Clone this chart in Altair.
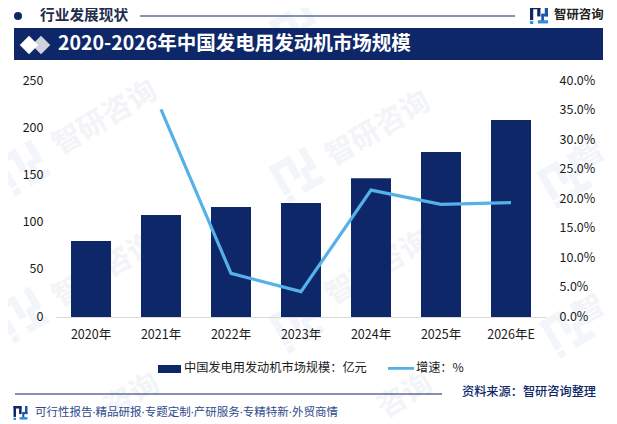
import math
import altair as alt
import pandas as pd

# ---- chart values ----
years = ["2020年", "2021年", "2022年", "2023年", "2024年", "2025年", "2026年E"]
market_size = [80.5, 108, 116.5, 120.8, 147, 174.8, 208.7]
growth_years = ["2021年", "2022年", "2023年", "2024年", "2025年", "2026年E"]
growth_pct = [35.2, 7.4, 4.3, 21.5, 19.1, 19.4]
left_ticks = [0, 50, 100, 150, 200, 250]
right_ticks = [0, 5, 10, 15, 20, 25, 30, 35, 40]

# ---- text ----
section_title = "行业发展现状"
brand = "智研咨询"
main_title = "2020-2026年中国发电用发动机市场规模"
legend_bar = "中国发电用发动机市场规模\uff1a亿元"
legend_line = "增速\uff1a%"
source_text = "资料来源\uff1a智研咨询整理"
footer_text = "可行性报告·精品研报·专题定制·产研服务·专精特新·外贸商情"

# ---- colours ----
NAVY = "#0E2769"
SKY = "#56B1E8"
INK = "#1A1A1A"
PALE = "#F2F4F7"
PALE_LOGO = "#F2F6FA"
FONT = "Noto Sans CJK SC"
FONT_NARROW_DOT = '"Noto Sans", "Noto Sans CJK SC"'

# the plot area's top-left corner, in picture pixels
OX, OY = 56, 81
PW, PH = 490, 236


def px(x):
    return x - OX


def py(y):
    return y - OY


def text_layer(rows, weight="normal", align="left", font=FONT):
    df = pd.DataFrame(
        [
            {"x": px(r[0]), "y": py(r[1]), "t": r[2], "s": r[3], "c": r[4], "a": r[5] if len(r) > 5 else 0}
            for r in rows
        ]
    )
    return alt.Chart(df).mark_text(
        font=font, fontWeight=weight, align=align, baseline="middle"
    ).encode(
        x=alt.X("x:Q", scale=None, axis=None),
        y=alt.Y("y:Q", scale=None, axis=None),
        text="t:N",
        size=alt.Size("s:Q", scale=None, legend=None),
        color=alt.Color("c:N", scale=None, legend=None),
        angle=alt.Angle("a:Q", scale=None, legend=None),
    )


def rect_layer(rows):
    df = pd.DataFrame(
        [{"x": px(r[0]), "x2": px(r[1]), "y": py(r[2]), "y2": py(r[3]), "c": r[4]} for r in rows]
    )
    return alt.Chart(df).mark_rect().encode(
        x=alt.X("x:Q", scale=None, axis=None),
        x2="x2:Q",
        y=alt.Y("y:Q", scale=None, axis=None),
        y2="y2:Q",
        color=alt.Color("c:N", scale=None, legend=None),
    )


# logo strokes in a unit box: x1, y1, x2, y2, width, tone
LOGO = [
    (0.00, 0.09, 0.58, 0.09, 0.18, 0),
    (0.09, 0.00, 0.09, 0.78, 0.18, 0),
    (0.49, 0.09, 0.49, 0.58, 0.18, 0),
    (0.91, 0.00, 0.91, 0.58, 0.18, 1),
    (0.64, 0.50, 1.00, 0.50, 0.15, 1),
    (0.70, 0.44, 0.70, 0.86, 0.15, 1),
    (0.44, 0.88, 1.00, 0.88, 0.18, 2),
    (0.00, 0.92, 0.18, 0.92, 0.16, 2),
]


def logo_rows(cx, cy, size, angle, tones):
    out = []
    ca, sa = math.cos(math.radians(angle)), math.sin(math.radians(angle))
    for x1, y1, x2, y2, w, tone in LOGO:
        pts = []
        for ux, uy in ((x1, y1), (x2, y2)):
            dx, dy = (ux - 0.5) * size, (uy - 0.5) * size
            pts.append((cx + dx * ca - dy * sa, cy + dx * sa + dy * ca))
        out.append(
            {
                "x": px(pts[0][0]), "y": py(pts[0][1]),
                "x2": px(pts[1][0]), "y2": py(pts[1][1]),
                "w": w * size, "c": tones[tone],
            }
        )
    return out


def logo_layer(rows):
    return alt.Chart(pd.DataFrame(rows)).mark_rule(strokeCap="butt").encode(
        x=alt.X("x:Q", scale=None, axis=None),
        x2="x2:Q",
        y=alt.Y("y:Q", scale=None, axis=None),
        y2="y2:Q",
        size=alt.Size("w:Q", scale=None, legend=None),
        color=alt.Color("c:N", scale=None, legend=None),
    )


# ---- watermark ----
wm_text = [
    (105, 118, brand), (378, 129, brand), (105, 270, brand), (378, 268, brand),
    (132, 396, brand[2:]), (405, 396, brand[2:]), (590, 155, brand[0]), (590, 310, brand[0]),
]
wm_logo_centres = [(23, 168), (297, 175), (565, 180), (22, 315), (297, 325), (568, 330), (297, 30)]

watermark_text = text_layer(
    [(x, y, t, 29, PALE, 329) for x, y, t in wm_text], weight="bold", align="center"
)
watermark_logo_rows = []
for x, y in wm_logo_centres:
    watermark_logo_rows += logo_rows(x, y, 42, -30, [PALE_LOGO, PALE_LOGO, PALE_LOGO])
watermark_logo = logo_layer(watermark_logo_rows)

# ---- data marks ----
bar_df = pd.DataFrame({"year": years, "value": market_size})
line_df = pd.DataFrame({"year": growth_years, "pct": growth_pct})

x_enc = alt.X(
    "year:N",
    sort=years,
    scale=alt.Scale(domain=years, paddingInner=30 / 70, paddingOuter=15 / 70),
    axis=alt.Axis(
        title=None, labelAngle=0, ticks=False, domain=True, domainColor="#D9D9D9", domainWidth=1,
        labelFont=FONT, labelFontSize=12.5, labelColor=INK, labelPadding=11, grid=False, zindex=1,
    ),
)

bars = alt.Chart(bar_df).mark_bar(color=NAVY).encode(
    x=x_enc,
    y=alt.Y(
        "value:Q",
        scale=alt.Scale(domain=[0, 250], nice=False),
        axis=alt.Axis(
            title=None, values=left_ticks, ticks=False, domain=False, grid=False, zindex=1,
            labelFont=FONT, labelFontSize=12.5, labelColor=INK, labelPadding=13, labelOffset=-1,
        ),
    ),
)

line = alt.Chart(line_df).mark_line(color=SKY, strokeWidth=3.2).encode(
    x=alt.X("year:N", sort=years),
    y=alt.Y(
        "pct:Q",
        scale=alt.Scale(domain=[0, 40], nice=False),
        axis=alt.Axis(
            title=None, orient="right", values=right_ticks, format=".1f",
            labelExpr="format(datum.value, '.1f') + '%'",
            ticks=False, domain=False, grid=False, zindex=1,
            labelFont=FONT, labelFontSize=12.5, labelColor=INK, labelPadding=13, labelOffset=-1,
        ),
    ),
)

# ---- decoration ----
bands = rect_layer(
    [
        (14, 603, 28, 60, NAVY),          # title band
        (140, 515, 15.5, 16.5, NAVY),     # header rule
        (15, 442, 393.5, 394.5, NAVY),    # footer rule
        (158, 181, 365, 373, NAVY),       # legend swatch, bars
        (388, 414, 367, 369.8, SKY),      # legend swatch, line
    ]
)

dot = alt.Chart(pd.DataFrame({"x": [px(18)], "y": [py(16)]})).mark_point(
    filled=True, opacity=1, color=NAVY, size=64, shape="circle"
).encode(x=alt.X("x:Q", scale=None, axis=None), y=alt.Y("y:Q", scale=None, axis=None))

diamonds = alt.Chart(
    pd.DataFrame({"x": [px(41), px(29)], "y": [py(45), py(45)], "c": ["#CFD3DC", "#FFFFFF"]})
).mark_point(filled=True, opacity=1, shape="diamond", size=340).encode(
    x=alt.X("x:Q", scale=None, axis=None),
    y=alt.Y("y:Q", scale=None, axis=None),
    color=alt.Color("c:N", scale=None, legend=None),
)

logos = logo_layer(
    logo_rows(539, 15, 18, 0, [NAVY, "#1C56A8", "#2F8FD8"])
    + logo_rows(20.5, 413, 14, 0, [NAVY, "#1C56A8", "#2F8FD8"])
)

texts_bold = text_layer(
    [
        (40, 16, section_title, 14.7, "#1F2D4D"),
        (58, 44, main_title, 19.5, "#FFFFFF"),
        (554, 14.5, brand, 12.4, "#222222"),
    ],
    weight="bold",
)
texts_medium = text_layer([(462, 392, source_text, 12.2, NAVY)], weight=500)
texts_plain = text_layer(
    [
        (184, 368, legend_bar, 12.2, INK),
        (416, 368, legend_line, 12.2, INK),
    ]
)
texts_footer = text_layer([(35, 413, footer_text, 11.5, "#2F4B8C")], font=FONT_NARROW_DOT)

chart = (
    alt.layer(
        watermark_logo, watermark_text, bars, line, bands, dot, diamonds, logos,
        texts_bold, texts_medium, texts_plain, texts_footer,
    )
    .resolve_scale(y="independent")
    .properties(
        width=PW,
        height=PH,
        background="#FFFFFF",
        autosize=alt.AutoSizeParams(type="none"),
        padding={"left": OX - 8, "top": OY - 8, "right": 601 - (OX - 8) - PW, "bottom": 412 - (OY - 8) - PH},
    )
    .configure_view(stroke=None)
)

chart.save("out.html", embed_options={"renderer": "svg", "actions": False})
